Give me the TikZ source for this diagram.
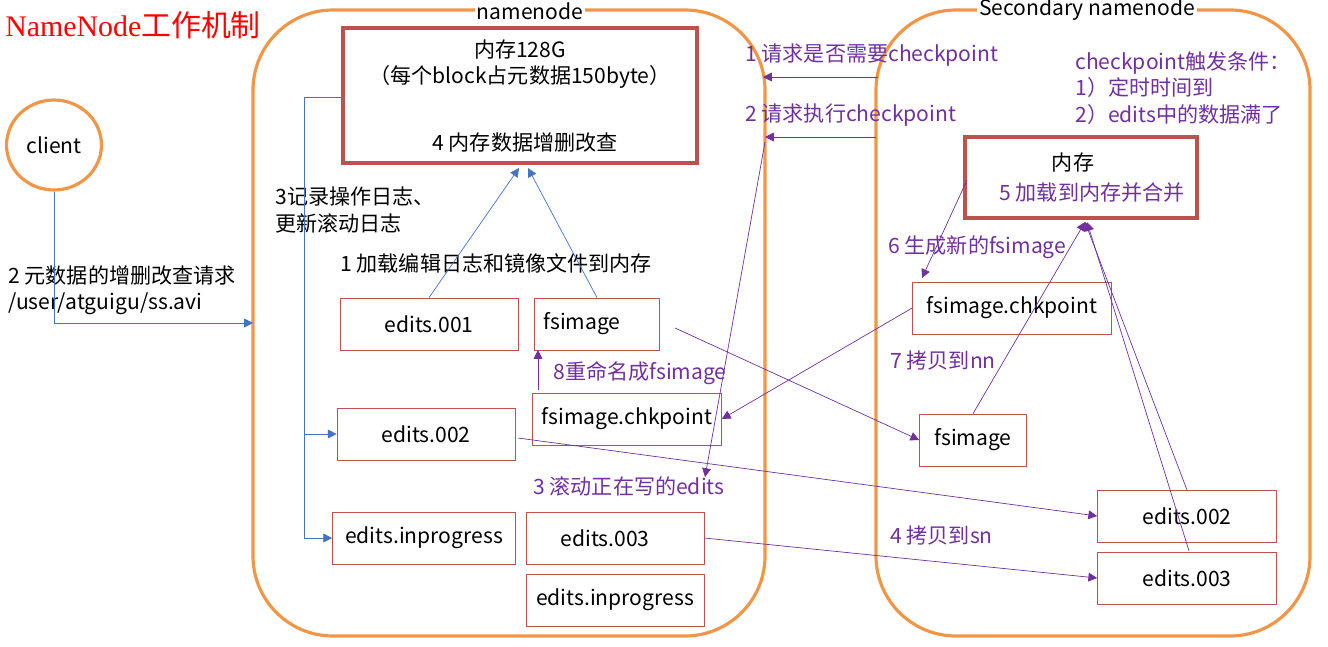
\documentclass[tikz,border=0pt]{standalone}
\usepackage{fontspec}
\setmainfont{Noto Sans CJK SC}
\newfontfamily\titlefont{Liberation Serif}
\usetikzlibrary{arrows.meta,shapes.geometric}
\definecolor{rahmen}{RGB}{240,150,70}
\definecolor{kasten}{RGB}{190,80,77}
\definecolor{lila}{RGB}{112,48,160}
\definecolor{blau}{RGB}{68,114,196}

\tikzset{
  box/.style={draw=kasten, minimum width=#1, minimum height=1.04cm, inner sep=0pt, font=\fontsize{12}{14}\selectfont},
  membox/.style={draw=kasten, line width=1.8pt, inner sep=0pt},
  txt/.style={font=\fontsize{12}{15}\selectfont, inner sep=0pt, anchor=west, align=left},
  ptxt/.style={txt, lila},
  bpfeil/.style={blau, -{Triangle[length=5pt,width=5pt]}},
  ppfeil/.style={lila, -{Triangle[length=5pt,width=5pt]}},
}

\begin{document}
\begin{tikzpicture}[x=0.02cm, y=-0.02cm]
    \useasboundingbox (0,0) rectangle (1328,646);

    % Rahmen
    \draw[rahmen, line width=1.8pt, rounded corners=1.6cm] (253,10) rectangle (765,636);
    \draw[rahmen, line width=1.8pt, rounded corners=1.6cm] (876,10) rectangle (1310,636);
    \node[font=\fontsize{12}{14}\selectfont, fill=white, inner sep=1pt] (nnlabel) at (530,11) {namenode};
    \node[font=\fontsize{12}{14}\selectfont, fill=white, inner sep=1pt] (snlabel) at (1087,10) {Secondary namenode};
    \node[red, anchor=west, inner sep=0pt, font=\fontsize{17}{19}\selectfont] (title) at (5,25) {{\titlefont NameNode}工作机制};

    % client
    \node[draw=rahmen, line width=1.8pt, ellipse, minimum width=1.9cm, minimum height=1.8cm, font=\fontsize{12}{14}\selectfont] (client) at (54,145) {client};
    \node[txt] (req) at (8,290) {2 元数据的增删改查请求\\/user/atguigu/ss.avi};

    % namenode
    \draw[membox] (343,28) rectangle (697,163);
    \coordinate (mem) at (520,95);
    \node[font=\fontsize{12}{15}\selectfont, align=center] (memtxt) at (520,64) {内存128G\\（每个block占元数据150byte）};
    \node[font=\fontsize{12}{14}\selectfont] (memop) at (525,143) {4 内存数据增删改查};
    \node[txt] (log) at (275,210) {3记录操作日志、\\更新滚动日志};
    \node[txt] (load) at (340,263) {1 加载编辑日志和镜像文件到内存};

    \node[box=3.56cm] (e1) at (429,324) {edits.001};
    \node[box=2.5cm] (fs) at (597,324) {\hspace{-0.6cm}fsimage};
    \node[box=3.56cm] (e2) at (426,434) {edits.002};
    \node[box=3.78cm] (fc) at (627,419) {fsimage.chkpoint};
    \node[box=3.66cm] (ei) at (424,538) {edits.inprogress};
    \node[box=3.56cm] (e3) at (615,538) {\hspace{-0.4cm}edits.003};
    \node[box=3.56cm] (ei2) at (615,600) {edits.inprogress};
    \node[ptxt] (rename) at (553,373) {8重命名成fsimage};
    \node[ptxt] (roll) at (533,486) {3 滚动正在写的edits};

    % secondary namenode
    \node[ptxt] (q1) at (745,55) {1 请求是否需要checkpoint};
    \node[ptxt] (q2) at (745,115) {2 请求执行checkpoint};
    \node[ptxt] (cond) at (1075,88) {checkpoint触发条件：\\1）定时时间到\\2）edits中的数据满了};
    \draw[membox] (965,137) rectangle (1197,218);
    \coordinate (smem) at (1085,222);
    \node[font=\fontsize{12}{14}\selectfont] (smemtxt) at (1073,163) {内存};
    \node[ptxt, anchor=center] (merge) at (1092,193) {5 加载到内存并合并};
    \node[ptxt] (newfs) at (888,247) {6 生成新的fsimage};
    \node[box=3.98cm] (sfc) at (1012,308) {fsimage.chkpoint};
    \node[ptxt] (copynn) at (890,360) {7 拷贝到nn};
    \node[box=2.14cm] (sfs) at (973,440) {fsimage};
    \node[ptxt] (copysn) at (890,535) {4 拷贝到sn};
    \node[box=3.58cm] (se2) at (1187,516) {edits.002};
    \node[box=3.58cm] (se3) at (1187,578) {edits.003};

    % Pfeile
    \draw[bpfeil] (client.south) |- (253,323);
    \draw[bpfeil] (343,97) -| (304,434) -- (e2.west);
    \draw[bpfeil] (304,434) |- (ei.west);
    \draw[bpfeil] (e1.north) -- (519,168);
    \draw[bpfeil] (fs.north) -- (528,168);
    \draw[ppfeil] (538,390) -- (538,350);
    \draw[ppfeil] (878,77) -- (763,77);
    \draw[ppfeil] (876,137) -- (765,137);
    \draw[ppfeil] (765,142) -- (705,477);
    \draw[ppfeil] (967,180) -- (922,278);
    \draw[ppfeil] (sfc.west) -- (fc.east);
    \draw[ppfeil] (675,328) -- (sfs.west);
    \draw[ppfeil] (sfs.north) -- (smem);
    \draw[ppfeil] (518,438) -- (se2.west);
    \draw[ppfeil] (e3.east) -- (se3.west);
    \draw[ppfeil] (1187,490) -- (smem);
    \draw[ppfeil] (1189,551) -- (1087,222);
\end{tikzpicture}
\end{document}
